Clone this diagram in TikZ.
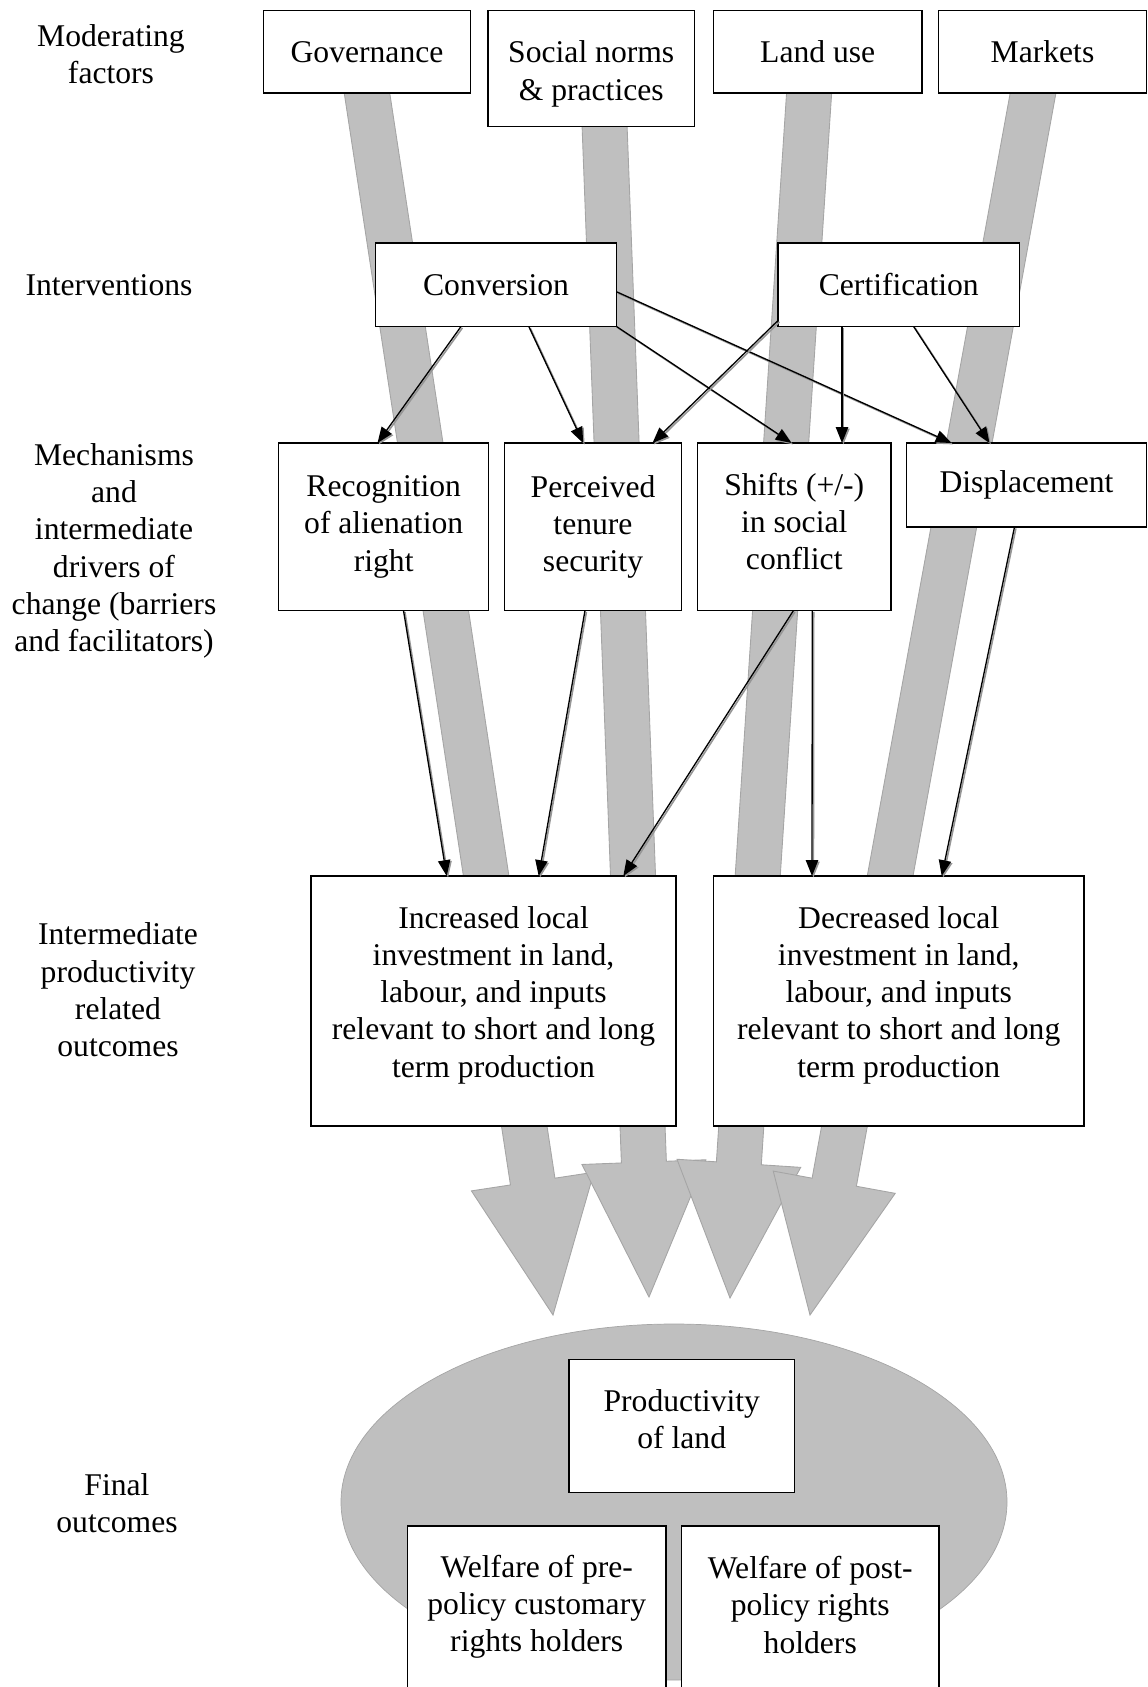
\documentclass[tikz,border=0pt]{standalone}
\usepackage{fontspec}
\setmainfont{Liberation Serif}
\usetikzlibrary{calc,arrows.meta}
\definecolor{bandgrey}{RGB}{191,191,191}
\definecolor{banddark}{RGB}{165,165,165}
\definecolor{shadowgrey}{RGB}{150,150,150}
\newcommand\diagfont{\fontsize{18}{21.2}\selectfont}
\newcommand\BigArr[2]{%
  \coordinate (hb) at ($(#2)!135*0.02cm!(#1)$);
  \filldraw[bigarr] ($(#1)!22.5*0.02cm!90:(#2)$) -- ($(hb)!22.5*0.02cm!90:(#2)$) -- ($(hb)!62*0.02cm!90:(#2)$) -- (#2) -- ($(hb)!62*0.02cm!-90:(#2)$) -- ($(hb)!22.5*0.02cm!-90:(#2)$) -- ($(#1)!22.5*0.02cm!-90:(#2)$) -- cycle;}
\begin{document}
\begin{tikzpicture}[x=0.02cm,y=-0.02cm,
  box/.style={draw=black, fill=white, line width=0.8pt, inner sep=0pt, outer sep=0pt, align=center, font=\diagfont},
  lab/.style={align=center, inner sep=0pt, font=\diagfont},
  bigarr/.style={fill=bandgrey, draw=banddark, line width=0.5pt, line join=miter},
  ellfill/.style={fill=bandgrey, draw=banddark, line width=0.4pt},
  conn/.style={draw=black, line width=0.75pt, -{Triangle[length=9pt,width=7pt]},
    preaction={draw=shadowgrey, line width=0.9pt, transform canvas={shift={(0.8pt,-0.8pt)}}}}]
\useasboundingbox (0,0) rectangle (1148,1687);
\clip (0,0) rectangle (1148,1687);

% final outcome ellipse
\filldraw[ellfill] (674,1502) ellipse [x radius=333, y radius=178];

% big grey arrows
\coordinate (s1) at (361.2,55);  \coordinate (t1) at (553,1315);
\coordinate (s2) at (603.2,90);  \coordinate (t2) at (649,1297);
\coordinate (s3) at (811.6,55);  \coordinate (t3) at (730,1298);
\coordinate (s4) at (1040,55);   \coordinate (t4) at (810,1315);
\BigArr{s1}{t1}
\BigArr{s2}{t2}
\BigArr{s3}{t3}
\BigArr{s4}{t4}

% left labels
\node[lab] (lmod) at (111,54) {Moderating\\factors};
\node[lab] (lint) at (109,285) {Interventions};
\node[lab] (lmech) at (114,551) {Mechanisms\\and\\intermediate\\drivers of\\change (barriers\\and facilitators)};
\node[lab] (lout) at (118,990) {Intermediate\\productivity\\related\\outcomes};
\node[lab] (lfin) at (117,1503) {Final\\outcomes};

% moderating factors
\node[box, minimum width=207*0.02cm, minimum height=82.5*0.02cm] (gov) at (367,51.75) {Governance};
\node[box, minimum width=206.5*0.02cm, minimum height=116*0.02cm] (soc) at (591.25,68.5) {};
\node[lab] (soct) at (591.25,74) {Social norms\\\& practices};
\node[box, minimum width=208.5*0.02cm, minimum height=82.5*0.02cm] (land) at (817.75,51.75) {Land use};
\node[box, minimum width=208*0.02cm, minimum height=82.5*0.02cm] (mkt) at (1042.5,51.75) {Markets};

% interventions
\node[box, minimum width=241*0.02cm, minimum height=83.5*0.02cm] (conv) at (496,284.75) {Conversion};
\node[box, minimum width=241.5*0.02cm, minimum height=83.5*0.02cm] (cert) at (898.75,284.75) {Certification};

% mechanisms
\node[box, minimum width=210*0.02cm, minimum height=167.5*0.02cm] (rec) at (383.7,526.75) {Recognition\\of alienation\\right};
\node[box, minimum width=177*0.02cm, minimum height=167.5*0.02cm] (perc) at (593,526.75) {Perceived\\tenure\\security};
\node[box, minimum width=193.5*0.02cm, minimum height=167.5*0.02cm] (shf) at (794.25,526.75) {};
\node[lab] (shft) at (794.25,521.3) {Shifts (+/-)\\in social\\conflict};
\node[box, minimum width=240*0.02cm, minimum height=84*0.02cm] (disp) at (1026.5,485) {Displacement};

% intermediate outcomes
\node[box, minimum width=365*0.02cm, minimum height=250*0.02cm] (inc) at (493.5,1001) {};
\node[lab] (inct) at (493.5,995) {Increased local\\investment in land,\\labour, and inputs\\relevant to short and long\\term production};
\node[box, minimum width=370.5*0.02cm, minimum height=250*0.02cm] (dec) at (898.75,1001) {};
\node[lab] (dect) at (898.75,995) {Decreased local\\investment in land,\\labour, and inputs\\relevant to short and long\\term production};

% final outcomes
\node[box, minimum width=225.5*0.02cm, minimum height=133*0.02cm] (prod) at (681.75,1426) {};
\node[lab] (prodt) at (681.75,1419.5) {Productivity\\of land};
\node[box, minimum width=258.5*0.02cm, minimum height=200*0.02cm, anchor=north] (wpre) at (536.75,1526) {};
\node[box, minimum width=257.5*0.02cm, minimum height=200*0.02cm, anchor=north] (wpost) at (810.25,1526) {};
\node[lab] (wpretxt) at (536.75,1607) {Welfare of pre-\\policy customary\\rights holders};
\node[lab] (wposttxt) at (810.25,1605) {Welfare of post-\\policy rights\\holders};

% interventions -> mechanisms
\draw[conn] ($(conv.south west)+(85.5,0)$) -- ($(rec.north west)+(98.8,0)$);
\draw[conn] ($(conv.south west)+(153.3,0)$) -- ($(perc.north west)+(78.7,0)$);
\draw[conn] (conv.south east) -- ($(shf.north west)+(94,0)$);
\draw[conn] ($(conv.east)+(0,7)$) -- ($(disp.north west)+(45,0)$);
\draw[conn] ($(cert.south west)+(0,-6)$) -- ($(perc.north west)+(148,0)$);
\draw[conn] ($(cert.south west)+(64,0)$) -- ($(shf.north west)+(144.5,0)$);
\draw[conn] ($(cert.south west)+(135.6,0)$) -- ($(disp.north west)+(83,0)$);

% mechanisms -> intermediate outcomes
\draw[conn] ($(rec.south west)+(124.8,0)$) -- ($(inc.north west)+(135.7,0)$);
\draw[conn] ($(perc.south west)+(80.5,0)$) -- ($(inc.north west)+(227.7,0)$);
\draw[conn] ($(shf.south west)+(96,0)$) -- ($(inc.north west)+(312.3,0)$);
\draw[conn] ($(shf.south west)+(114.8,0)$) -- ($(dec.north west)+(98.5,0)$);
\draw[conn] ($(disp.south west)+(108,0)$) -- ($(dec.north west)+(228.2,0)$);
\end{tikzpicture}
\end{document}
